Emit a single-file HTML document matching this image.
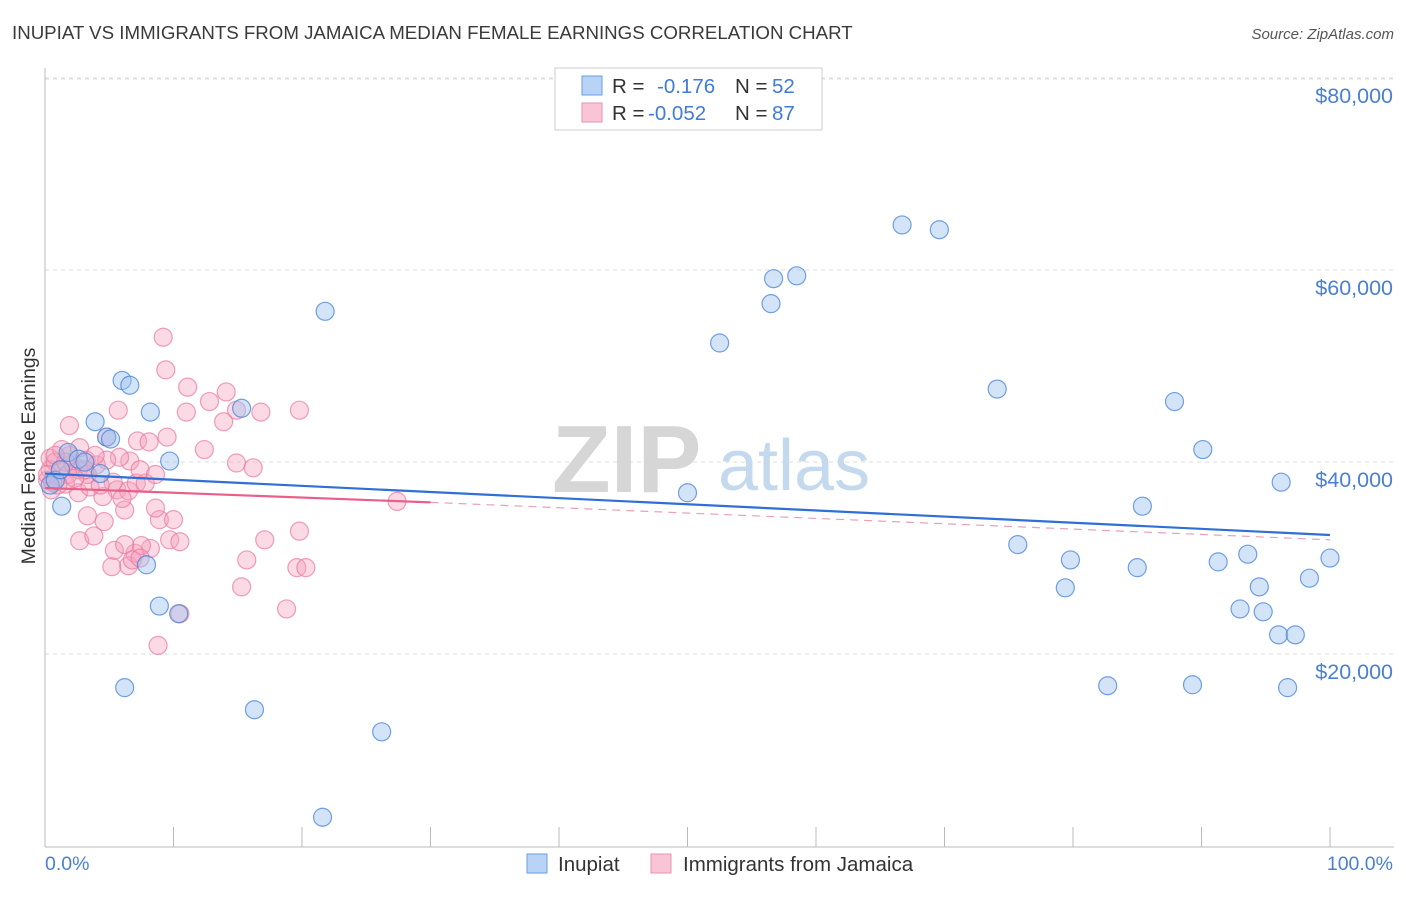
<!DOCTYPE html>
<html><head><meta charset="utf-8"><style>
body{margin:0;background:#fff;font-family:"Liberation Sans",sans-serif;}
svg text{font-family:"Liberation Sans",sans-serif;}
</style></head><body>
<svg id="chart" width="1406" height="892" xmlns="http://www.w3.org/2000/svg">
<text x="12" y="39" font-size="18.7" fill="#3a3a3a">INUPIAT VS IMMIGRANTS FROM JAMAICA MEDIAN FEMALE EARNINGS CORRELATION CHART</text>
<text x="1394" y="39" font-size="15" fill="#555" text-anchor="end" font-style="italic">Source: ZipAtlas.com</text>
<g id="grid"></g>
<g><text x="552" y="492" font-size="96" fill="#d6d6d6" font-family="Liberation Serif" font-weight="bold">ZIP</text><text x="718" y="490" font-size="72" fill="#c5d9ee">atlas</text></g>
<line x1="45" y1="68" x2="45" y2="847" stroke="#bbb"/>
<line x1="45" y1="847" x2="1394" y2="847" stroke="#bbb"/>
<text transform="translate(35,456) rotate(-90)" font-size="19.5" fill="#333" text-anchor="middle">Median Female Earnings</text>
<text x="45" y="870" font-size="19.5" fill="#4a7fd4">0.0%</text>
<text x="1393" y="870" font-size="19.5" fill="#4a7fd4" text-anchor="end">100.0%</text>
<g id="pts"></g>
<g id="trend"></g>
<g>
<rect x="555" y="68" width="267" height="62" fill="#fff" stroke="#ccc"/>
<rect x="582" y="76" width="20" height="19" fill="#b8d3f5" stroke="#6a9ee0"/>
<rect x="582" y="103" width="20" height="19" fill="#f9c4d6" stroke="#e993ae"/>
<text x="612" y="93" font-size="20.5" fill="#333">R = </text><text x="657" y="93" font-size="20.5" fill="#3f7bd9">-0.176</text>
<text x="735" y="93" font-size="20.5" fill="#333">N = </text><text x="772" y="93" font-size="20.5" fill="#3f7bd9">52</text>
<text x="612" y="120" font-size="20.5" fill="#333">R = </text><text x="648" y="120" font-size="20.5" fill="#3f7bd9">-0.052</text>
<text x="735" y="120" font-size="20.5" fill="#333">N = </text><text x="772" y="120" font-size="20.5" fill="#3f7bd9">87</text>
</g>
<g>
<rect x="527" y="854" width="20" height="19" fill="#b8d3f5" stroke="#6a9ee0"/>
<text x="558" y="871" font-size="20.5" fill="#333">Inupiat</text>
<rect x="651" y="854" width="20" height="19" fill="#f9c4d6" stroke="#e993ae"/>
<text x="683" y="871" font-size="20.5" fill="#333">Immigrants from Jamaica</text>
</g>
</svg>
<script>
const yTicks=[20000,40000,60000,80000];
const yTickLabels=["$20,000","$40,000","$60,000","$80,000"];
const xTicks=[0,10,20,30,40,50,60,70,80,90,100];
const blueX=[1.3,1.8,2.6,3.9,4.3,4.8,5.1,6.0,6.6,8.2,9.7,15.3,7.9,8.9,10.4,6.2,16.3,26.2,21.6,21.8,50.0,52.5,56.5,56.7,58.5,66.7,69.6,74.1,75.7,79.4,79.8,82.7,85.0,85.4,87.9,89.3,90.1,91.3,93.0,93.6,94.5,94.8,96.0,96.2,96.7,97.3,98.4,100,0.4,0.8,1.2,3.1];
const blueY=[35.5,41.1,40.4,44.3,38.9,42.7,42.5,48.6,48.1,45.3,40.2,45.7,29.4,25.1,24.3,16.6,14.3,12.0,3.1,55.8,36.9,52.5,56.6,59.2,59.5,64.8,64.3,47.7,31.5,27.0,29.9,16.8,29.1,35.5,46.4,16.9,41.4,29.7,24.8,30.5,27.1,24.5,22.1,38.0,16.6,22.1,28.0,30.1,37.7,38.2,39.3,40.1];
const pinkX=[9.2,9.4,11.1,11.0,14.1,12.8,14.9,13.9,16.8,19.8,1.9,5.7,7.2,8.1,9.5,12.4,14.9,16.2,27.4,19.8,17.1,15.7,15.3,18.8,19.6,20.3,8.8,10.5,6.5,8.2,2.7,3.8,5.2,7.0,7.5,8.9,10.0,8.6,6.2,3.3,4.6,5.6,6.5,7.1,4.5,2.6,3.5,1.6,0.4,0.4,0.8,1.2,1.8,0.5,0.2,1.0,2.2,2.6,3.2,4.0,2.7,1.9,1.3,4.8,6.0,7.8,5.3,4.3,3.3,6.6,5.8,7.4,8.6,9.7,10.5,5.4,6.2,6.8,7.4,4.8,3.9,3.1,2.3,1.6,0.8,0.2,0.6];
const pinkY=[53.1,49.7,47.9,45.3,47.4,46.4,45.5,44.3,45.3,45.5,43.9,45.5,42.3,42.2,42.7,41.4,40.0,39.5,36.0,32.9,32.0,29.9,27.1,24.8,29.1,29.1,21.0,24.3,29.3,31.1,31.9,32.4,29.2,30.6,31.4,34.1,34.1,35.3,35.1,34.5,33.9,37.2,37.1,37.9,36.5,36.9,37.5,37.8,39.3,40.5,40.1,39.3,38.8,37.2,38.2,37.7,39.8,39.3,40.3,39.8,41.6,40.8,41.4,42.7,36.3,37.9,38.0,37.7,38.8,40.2,40.6,39.3,38.8,32.0,31.8,30.9,31.5,29.9,30.1,40.3,40.8,39.3,38.4,40.1,40.8,38.8,38.0];
const blueTrend=[[0,38.9],[100,32.5]];
const pinkTrendSolid=[[0,37.4],[30,35.9]];
const pinkTrendDash=[[30,35.9],[100,32.0]];
const NS="http://www.w3.org/2000/svg";
const X=p=>45+p*12.85;
const Y=v=>847-v*0.0096;
const Yk=k=>Y(k*1000);
function mk(tag,attrs,parent){const e=document.createElementNS(NS,tag);for(const k in attrs)e.setAttribute(k,attrs[k]);parent.appendChild(e);return e;}
const grid=document.getElementById('grid');
yTicks.forEach((t,i)=>{
  const l=mk('line',{x1:45,x2:1394,y1:Y(t)-1,y2:Y(t)-1,stroke:'#ddd','stroke-dasharray':'4,4'},grid);
  
  
  const tx=mk('text',{x:1393,y:Y(t)+24,'font-size':21.5,fill:'#4a7fd4','text-anchor':'end'},grid);
  tx.textContent=yTickLabels[i];
  
  
});
mk('line',{x1:45,x2:1394,y1:79,y2:79,stroke:'#ddd','stroke-dasharray':'4,4'},grid);
xTicks.forEach(t=>{
  const l=mk('line',{x1:X(t),x2:X(t),y1:827,y2:847,stroke:'#bbb'},grid);
  
  
});
const pts=document.getElementById('pts');
pinkX.forEach((x,i)=>{
  const c=mk('circle',{cx:X(x),cy:Yk(pinkY[i]),r:9,fill:'rgba(244,160,190,0.4)',stroke:'rgba(232,120,155,0.7)','stroke-width':1.2},pts);
  
  
});
blueX.forEach((x,i)=>{
  const c=mk('circle',{cx:X(x),cy:Yk(blueY[i]),r:9,fill:'rgba(160,196,240,0.45)',stroke:'rgba(70,130,215,0.75)','stroke-width':1.2},pts);
  
  
});
const tr=document.getElementById('trend');
const b=mk('line',{x1:X(blueTrend[0][0]),y1:Yk(blueTrend[0][1]),x2:X(blueTrend[1][0]),y2:Yk(blueTrend[1][1]),stroke:'#2f6fd6','stroke-width':2.2},tr);


const p1=mk('line',{x1:X(pinkTrendSolid[0][0]),y1:Yk(pinkTrendSolid[0][1]),x2:X(pinkTrendSolid[1][0]),y2:Yk(pinkTrendSolid[1][1]),stroke:'#e8608a','stroke-width':2.2},tr);


const p2=mk('line',{x1:X(pinkTrendDash[0][0]),y1:Yk(pinkTrendDash[0][1]),x2:X(pinkTrendDash[1][0]),y2:Yk(pinkTrendDash[1][1]),stroke:'#e8a0b8','stroke-width':1.2,'stroke-dasharray':'8,6'},tr);


</script>
</body></html>
